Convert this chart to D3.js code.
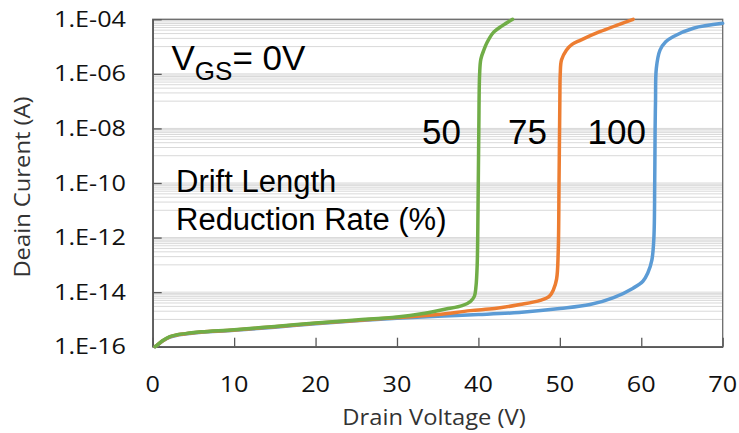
<!DOCTYPE html>
<html>
<head>
<meta charset="utf-8">
<script src="https://cdn.jsdelivr.net/npm/d3@7/dist/d3.min.js"></script>
<style>
  html, body { margin: 0; padding: 0; background: #fff; }
  svg { display: block; }
</style>
</head>
<body>
<svg id="chart" width="739" height="433"></svg>
<script>
// Drain voltage sweep (V) and drain current (A) for each drift-length reduction rate
const v100 = [0.3, 0.7, 1.2, 2.1, 3, 4.5, 6, 10, 15, 20, 25, 30, 35, 40, 45, 50, 53.7, 56.6, 59, 60.2, 60.8, 61.3, 61.55, 61.65, 61.7, 61.75, 61.85, 62.3, 63.0, 63.9, 66.4, 70];
const i100 = [1e-16, 1.22e-16, 1.6e-16, 2.25e-16, 2.65e-16, 3.05e-16, 3.4e-16, 4.0e-16, 5.2e-16, 7.0e-16, 8.9e-16, 1.1e-15, 1.3e-15, 1.5e-15, 1.8e-15, 2.5e-15, 3.5e-15, 6.3e-15, 1.4e-14, 2.5e-14, 5e-14, 1.5e-13, 1e-12, 1e-10, 1e-8, 1e-7, 1.6e-6, 7.4e-6, 1.5e-5, 2.3e-5, 4.7e-5, 7.1e-5];

const v75 = [0.3, 0.7, 1.2, 2.1, 3, 4.5, 6, 10, 15, 20, 25, 30, 35, 39, 42, 45.1, 47.6, 48.7, 49.2, 49.6, 49.8, 49.9, 50.0, 50.05, 50.2, 50.8, 51.5, 52.5, 54.9, 59];
const i75 = [1e-16, 1.24e-16, 1.62e-16, 2.3e-16, 2.7e-16, 3.1e-16, 3.45e-16, 4.1e-16, 5.4e-16, 7.2e-16, 9.2e-16, 1.17e-15, 1.5e-15, 2.1e-15, 2.5e-15, 3.5e-15, 5e-15, 7e-15, 1.2e-14, 3e-14, 3e-13, 1e-10, 1e-7, 1e-6, 3.2e-6, 7.4e-6, 1.2e-5, 1.7e-5, 3.5e-5, 1e-4];

const v50 = [0.3, 0.7, 1.2, 2.1, 3, 4.5, 6, 10, 15, 20, 25, 30, 33, 36, 38, 39, 39.5, 39.7, 39.85, 39.95, 40.05, 40.15, 40.3, 40.7, 41.0, 41.8, 43, 44.2];
const i50 = [1e-16, 1.25e-16, 1.65e-16, 2.35e-16, 2.75e-16, 3.15e-16, 3.5e-16, 4.2e-16, 5.5e-16, 7.4e-16, 9.5e-16, 1.23e-15, 1.6e-15, 2.4e-15, 3.2e-15, 4.5e-15, 7e-15, 1.6e-14, 1e-13, 1e-11, 1e-8, 1e-6, 3.5e-6, 7.9e-6, 1.3e-5, 3.2e-5, 6e-5, 1e-4];

const seriesNames = ["100", "75", "50"];
const seriesColors = ["#5B9BD5", "#ED7D31", "#70AD47"];

// Axis ticks and their labels
const xTicks = [0, 10, 20, 30, 40, 50, 60, 70];
const yTicks = [1e-16, 1e-14, 1e-12, 1e-10, 1e-8, 1e-6, 1e-4];
const yTickLabels = ["1.E-16", "1.E-14", "1.E-12", "1.E-10", "1.E-08", "1.E-06", "1.E-04"];

const svg = d3.select("#chart");
const plot = { left: 152.7, right: 722.7, top: 19.3, bottom: 346.7 };

const x = d3.scaleLinear().domain([0, 70]).range([plot.left, plot.right]);
const y = d3.scaleLog().domain([1e-16, 1e-4]).range([plot.bottom, plot.top]);

// Minor gridlines: 1..9 x 10^(odd exponent) inside each two-decade step
const minorVals = [];
yTicks.slice(0, -1).forEach(t => {
  for (let k = 1; k <= 9; k++) minorVals.push(t * 10 * k);
});
const grid = svg.append("g").attr("class", "grid");
grid.selectAll("line.minor").data(minorVals).join("line")
  .attr("class", "minor")
  .attr("x1", plot.left).attr("x2", plot.right)
  .attr("y1", d => y(d)).attr("y2", d => y(d))
  .attr("stroke", "#d9d9d9").attr("stroke-width", 1);
grid.selectAll("line.major").data(yTicks).join("line")
  .attr("class", "major")
  .attr("x1", plot.left).attr("x2", plot.right)
  .attr("y1", d => y(d)).attr("y2", d => y(d))
  .attr("stroke", "#d9d9d9").attr("stroke-width", 1);

// Plot frame
svg.append("rect")
  .attr("x", plot.left).attr("y", plot.top)
  .attr("width", plot.right - plot.left).attr("height", plot.bottom - plot.top)
  .attr("fill", "none").attr("stroke", "#6b6b6b").attr("stroke-width", 1.3);

// Axes with inward ticks
const xAxis = d3.axisBottom(x).tickValues(xTicks).tickSizeInner(-9).tickSizeOuter(0).tickFormat("");
const yAxis = d3.axisLeft(y).tickValues(yTicks).tickSizeInner(-9).tickSizeOuter(0).tickFormat("");
const gx = svg.append("g").attr("transform", `translate(0,${plot.bottom})`).call(xAxis);
const gy = svg.append("g").attr("transform", `translate(${plot.left},0)`).call(yAxis);
[gx, gy].forEach(g => {
  g.select(".domain").attr("stroke", "#595959").attr("stroke-width", 1.5);
  g.selectAll(".tick line").attr("stroke", "#595959").attr("stroke-width", 1.3);
});

// Tick labels (slightly widened humanist sans)
const labelFont = "'Open Sans', 'DejaVu Sans', sans-serif";
const sx = 1.2;
svg.append("g").selectAll("text").data(xTicks).join("text")
  .attr("transform", d => `translate(${x(d)},392) scale(${sx},1)`)
  .attr("text-anchor", "middle")
  .attr("font-family", labelFont).attr("font-size", 21)
  .attr("fill", "#111")
  .text(d => d);
svg.append("g").selectAll("text").data(yTicks).join("text")
  .attr("transform", d => `translate(126,${y(d) + 7.5}) scale(${sx},1)`)
  .attr("text-anchor", "end")
  .attr("font-family", labelFont).attr("font-size", 21)
  .attr("fill", "#111")
  .text((d, i) => yTickLabels[i]);

// Axis titles
svg.append("text")
  .attr("transform", `translate(434,425) scale(1.08,1)`)
  .attr("text-anchor", "middle")
  .attr("font-family", labelFont).attr("font-size", 22)
  .attr("fill", "#333")
  .text("Drain Voltage (V)");
svg.append("text")
  .attr("transform", `translate(30,187) rotate(-90) scale(1.08,1)`)
  .attr("text-anchor", "middle")
  .attr("font-family", labelFont).attr("font-size", 22)
  .attr("fill", "#333")
  .text("Deain Curent (A)");

// Curves
const line = d3.line()
  .x(d => x(d[0]))
  .y(d => y(d[1]))
  .curve(d3.curveCatmullRom.alpha(0.5));
const series = [
  d3.zip(v100, i100),
  d3.zip(v75, i75),
  d3.zip(v50, i50)
];
svg.append("g").selectAll("path").data(series).join("path")
  .attr("d", line)
  .attr("fill", "none")
  .attr("stroke", (d, i) => seriesColors[i])
  .attr("stroke-width", 3.5)
  .attr("stroke-linecap", "round")
  .attr("stroke-linejoin", "round");

// Annotations
const arial = "'Liberation Sans', Arial, sans-serif";
const vgs = svg.append("text")
  .attr("x", 171.5).attr("y", 70)
  .attr("font-family", arial).attr("font-size", 35).attr("fill", "#000");
vgs.append("tspan").text("V");
vgs.append("tspan").attr("font-size", 26).attr("dy", 10).text("GS");
vgs.append("tspan").attr("dy", -10).text("= 0V");

const labelXs = [646, 547, 461];
svg.append("g").selectAll("text").data(seriesNames).join("text")
  .attr("x", (d, i) => labelXs[i]).attr("y", 144)
  .attr("text-anchor", "end")
  .attr("font-family", arial).attr("font-size", 35).attr("fill", "#000")
  .text(d => d);

svg.append("text")
  .attr("x", 176).attr("y", 192)
  .attr("font-family", arial).attr("font-size", 31).attr("fill", "#000")
  .text("Drift Length");
svg.append("text")
  .attr("x", 176).attr("y", 230)
  .attr("font-family", arial).attr("font-size", 31).attr("fill", "#000")
  .text("Reduction Rate (%)");
</script>
</body>
</html>
